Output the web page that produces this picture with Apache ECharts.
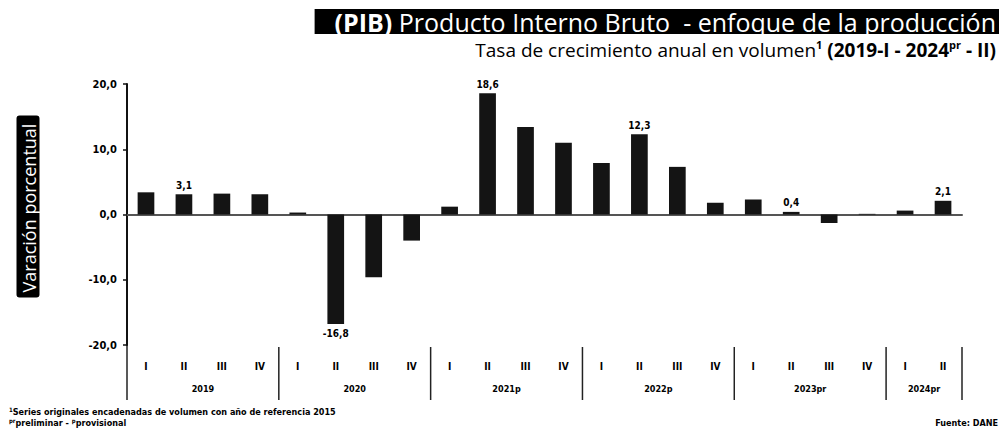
<!DOCTYPE html>
<html><head><meta charset="utf-8">
<script src="https://cdn.jsdelivr.net/npm/echarts@6/dist/echarts.min.js"></script>
<style>html,body{margin:0;padding:0;background:#fff}#c{width:999px;height:443px}</style>
</head><body><div id="c"></div>
<script>
const years = ['2019','2020','2021p','2022p','2023pr','2024pr'];
const quartersPerYear = [4,4,4,4,4,2];
const quarterLabels = ['I','II','III','IV','I','II','III','IV','I','II','III','IV','I','II','III','IV','I','II','III','IV','I','II'];
const categories = ['2019-I','2019-II','2019-III','2019-IV','2020-I','2020-II','2020-III','2020-IV','2021-I','2021-II','2021-III','2021-IV','2022-I','2022-II','2022-III','2022-IV','2023-I','2023-II','2023-III','2023-IV','2024-I','2024-II'];
const growth = [3.4,3.1,3.2,3.1, 0.3,-16.8,-9.6,-4.0, 1.2,18.6,13.4,11.0, 7.9,12.3,7.3,1.8, 2.3,0.4,-1.3,0.1, 0.6,2.1];
const labeledQuarter = 'II';
const yTicks = [-20,-10,0,10,20];

const narrow = '"Liberation Sans Narrow","DejaVu Sans Condensed",sans-serif';
const sans = '"Open Sans","Noto Sans",sans-serif';
const fmt = v => v.toFixed(1).replace('.', ',');

const chart = echarts.init(document.getElementById('c'), null, {renderer:'svg'});
const option = {
  animation:false,
  grid:{left:127,right:37,top:84,bottom:98},
  title:[
    {text:'{b|(PIB)} Producto Interno Bruto  - enfoque de la producción', right:0, top:10,
     backgroundColor:'#000', padding:[0,3,0,20],
     textStyle:{color:'#fff', fontFamily:sans, fontSize:25, fontWeight:'normal', lineHeight:23,
       rich:{b:{color:'#fff', fontFamily:sans, fontSize:25, fontWeight:'bold', lineHeight:23}}}},
    {text:'Tasa de crecimiento anual en volumen{s|1} {b|(2019-I - 2024}{sb|pr}{b| - II)}', right:3, top:39, padding:0,
     textStyle:{color:'#000', fontFamily:sans, fontSize:19, fontWeight:'normal', lineHeight:22,
       rich:{s:{fontFamily:sans, fontSize:11, fontWeight:'bold', verticalAlign:'top', lineHeight:22},
             b:{fontFamily:sans, fontSize:19, fontWeight:'bold', lineHeight:22},
             sb:{fontFamily:sans, fontSize:11, fontWeight:'bold', verticalAlign:'top', lineHeight:22}}}},
    {text:'{s|1}Series originales encadenadas de volumen con año de referencia 2015', left:9, top:406, padding:0,
     textStyle:{color:'#000', fontFamily:narrow, fontSize:9, fontWeight:'bold', lineHeight:11,
       rich:{s:{fontFamily:narrow, fontSize:6, fontWeight:'bold', verticalAlign:'top', lineHeight:11}}}},
    {text:'{s|pr}preliminar - {s|p}provisional', left:9, top:417, padding:0,
     textStyle:{color:'#000', fontFamily:narrow, fontSize:9, fontWeight:'bold', lineHeight:11,
       rich:{s:{fontFamily:narrow, fontSize:6, fontWeight:'bold', verticalAlign:'top', lineHeight:11}}}},
    {text:'Fuente: DANE', right:1, top:417, padding:0,
     textStyle:{color:'#000', fontFamily:narrow, fontSize:9, fontWeight:'bold', lineHeight:11}}
  ],
  xAxis:[
    {type:'category', data:categories, axisLine:{onZero:true, lineStyle:{color:'#555', width:2}},
     axisTick:{show:false}, axisLabel:{show:false}},
    {type:'category', data:categories, position:'bottom', axisLine:{show:false, onZero:false},
     axisTick:{show:false},
     axisLabel:{margin:16, interval:0, formatter:(v,i)=>quarterLabels[i], fontFamily:narrow, fontWeight:'bold', fontSize:10, color:'#000'}}
  ],
  yAxis:{type:'value', min:yTicks[0], max:yTicks[yTicks.length-1], interval:yTicks[1]-yTicks[0],
    axisLine:{show:true, lineStyle:{color:'#111', width:2}},
    axisTick:{show:true, length:4, lineStyle:{color:'#111', width:1.5}},
    splitLine:{show:false},
    axisLabel:{formatter:v=>fmt(v), fontFamily:narrow, fontWeight:'bold', fontSize:11, color:'#000', margin:10},
    name:'{g| }{t|Varación porcentual}', nameLocation:'middle', nameRotate:90, nameGap:88,
    nameTextStyle:{fontFamily:sans, fontSize:18, lineHeight:22,
      rich:{g:{width:16, fontSize:18, lineHeight:22},
            t:{color:'#fff', backgroundColor:'#000', borderRadius:3, fontFamily:sans, fontSize:18,
               lineHeight:20, padding:[3,8,2,5]}}}},
  series:[{
    type:'bar', barWidth:'44%',
    data:growth.map(v=>({value:v, label:{position: v<0?'bottom':'top'}})),
    itemStyle:{color:'#141414'},
    label:{show:true, distance:4, formatter:p=>quarterLabels[p.dataIndex]===labeledQuarter?fmt(p.value):'',
      fontFamily:narrow, fontWeight:'bold', fontSize:10, color:'#000'}
  }]
};
chart.setOption(option);

// group separators and year labels derived from the axis scales
const px = i => chart.convertToPixel({xAxisIndex:0}, i);
const band = px(1) - px(0);
const yBottom = chart.convertToPixel({yAxisIndex:0}, yTicks[0]);
const graphics = [];
let start = 0;
quartersPerYear.forEach((n,k)=>{
  const left = px(start) - band/2;
  const right = px(start+n-1) + band/2;
  if (k===0) graphics.push({type:'line', shape:{x1:left,y1:yBottom,x2:left,y2:yBottom+55}, style:{stroke:'#222', lineWidth:1.5}});
  graphics.push({type:'line', shape:{x1:right,y1:yBottom+2,x2:right,y2:yBottom+55}, style:{stroke:'#222', lineWidth:1.5}});
  graphics.push({type:'text', x:(left+right)/2, y:yBottom+44, style:{text:years[k], fill:'#000', font:'bold 9px '+narrow, textAlign:'center', textVerticalAlign:'middle'}});
  start += n;
});
chart.setOption({graphic:graphics});
</script></body></html>
